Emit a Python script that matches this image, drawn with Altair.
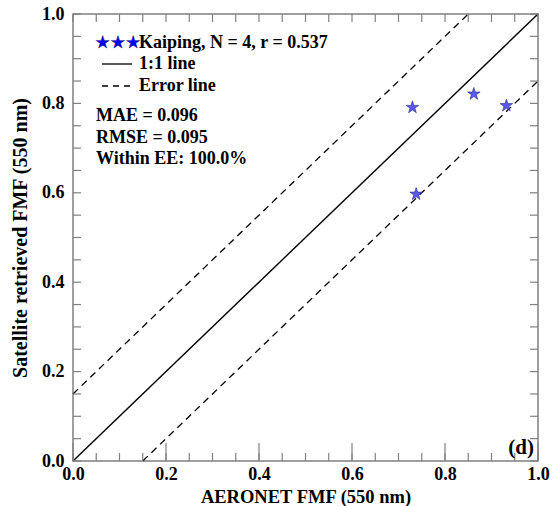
import altair as alt
import pandas as pd

# ---- data ----
site = "Kaiping"
aeronet_fmf = [0.730, 0.862, 0.932, 0.738]
satellite_fmf = [0.791, 0.821, 0.795, 0.597]

one_x = [0.0, 1.0]
one_y = [0.0, 1.0]
ee_upper_x = [0.0, 0.85]
ee_upper_y = [0.15, 1.0]
ee_lower_x = [0.15, 1.0]
ee_lower_y = [0.0, 0.85]

major_ticks = [0.0, 0.2, 0.4, 0.6, 0.8, 1.0]
all_ticks = [0.0, 0.05, 0.1, 0.15, 0.2, 0.25, 0.3, 0.35, 0.4, 0.45, 0.5,
             0.55, 0.6, 0.65, 0.7, 0.75, 0.8, 0.85, 0.9, 0.95, 1.0]

legend_title = "Kaiping, N = 4, r = 0.537"
legend_items = ["1:1 line", "Error line"]
stats_lines = ["MAE = 0.096", "RMSE = 0.095", "Within EE: 100.0%"]
panel_label = "(d)"
x_title = "AERONET FMF (550 nm)"
y_title = "Satellite retrieved FMF (550 nm)"

# ---- layout / style ----
W, H = 465, 447
FONT = "Liberation Serif"
FS = 18
FRAME = "#808080"

sx = alt.Scale(domain=[0, 1], nice=False, zero=False)
sy = alt.Scale(domain=[0, 1], nice=False, zero=False)

xaxis = alt.Axis(values=major_ticks, format=".1f", ticks=False, domain=False, grid=False,
                 labelFont=FONT, labelFontSize=FS, labelFontWeight="bold", labelColor="black",
                 labelPadding=4, labelFlush=False, labelOverlap=False,
                 title=x_title, titleFont=FONT, titleFontSize=18.5, titleFontWeight="bold",
                 titleColor="black", titleX=W / 2, titleY=35, titleAlign="center",
                 titleBaseline="middle")
yaxis = alt.Axis(values=major_ticks, format=".1f", ticks=False, domain=False, grid=False,
                 labelFont=FONT, labelFontSize=FS, labelFontWeight="bold", labelColor="black",
                 labelPadding=9, labelFlush=False, labelOverlap=False,
                 title=y_title, titleFont=FONT, titleFontSize=20, titleFontWeight="bold",
                 titleColor="black", titleX=-53, titleY=H / 2, titleAngle=270,
                 titleAlign="center", titleBaseline="middle")


def X(f):
    return alt.X(f, type="quantitative", scale=sx, axis=xaxis)


def Y(f):
    return alt.Y(f, type="quantitative", scale=sy, axis=yaxis)


pts = pd.DataFrame({"x": aeronet_fmf, "y": satellite_fmf})
one = pd.DataFrame({"x": one_x, "y": one_y})
up = pd.DataFrame({"x": ee_upper_x, "y": ee_upper_y})
lo = pd.DataFrame({"x": ee_lower_x, "y": ee_lower_y})
ticks_all = pd.DataFrame({"v": all_ticks})
ticks_major = pd.DataFrame({"v": major_ticks})

STAR = ("M0,-1 L0.2245,-0.309 L0.9511,-0.309 L0.3633,0.118 L0.5878,0.809 "
        "L0,0.382 L-0.5878,0.809 L-0.3633,0.118 L-0.9511,-0.309 L-0.2245,-0.309 Z")

line_one = alt.Chart(one).mark_line(color="black", strokeWidth=1.4).encode(x=X("x"), y=Y("y"))
line_up = alt.Chart(up).mark_line(color="black", strokeWidth=1.3, strokeDash=[7, 5]).encode(x=X("x"), y=Y("y"))
line_lo = alt.Chart(lo).mark_line(color="black", strokeWidth=1.3, strokeDash=[7, 5]).encode(x=X("x"), y=Y("y"))

stars = alt.Chart(pts).mark_point(shape=STAR, size=175, filled=True, fill="#5a5af0",
                                  stroke="#2a2a80", strokeWidth=0.6, opacity=1).encode(
    x=X("x"), y=Y("y"))

TK = dict(color=FRAME, strokeWidth=1.2)
t_bottom = alt.Chart(ticks_all).mark_rule(**TK).encode(x=X("v"), y=alt.value(H), y2=alt.value(H - 8))
t_bottom_major = alt.Chart(ticks_major).mark_rule(**TK).encode(x=X("v"), y=alt.value(H), y2=alt.value(H - 18))
t_top = alt.Chart(ticks_all).mark_rule(**TK).encode(x=X("v"), y=alt.value(0), y2=alt.value(8))
t_left = alt.Chart(ticks_all).mark_rule(**TK).encode(y=Y("v"), x=alt.value(0), x2=alt.value(8))
t_right = alt.Chart(ticks_all).mark_rule(**TK).encode(y=Y("v"), x=alt.value(W), x2=alt.value(W - 8))

TXT = dict(font=FONT, fontSize=FS, fontWeight="bold", color="black", align="left", baseline="middle")

leg_stars = alt.Chart(pd.DataFrame({"t": ["\u2605\u2605\u2605"]})).mark_text(
    font="DejaVu Sans", fontSize=17, color="#0000ee", stroke="#000050", strokeWidth=0.4,
    align="left", baseline="middle").encode(text="t:N", x=alt.value(22), y=alt.value(29))
leg_title = alt.Chart(pd.DataFrame({"t": [legend_title]})).mark_text(**TXT).encode(
    text="t:N", x=alt.value(66), y=alt.value(29))
leg_solid = alt.Chart(pd.DataFrame({"t": [legend_items[0]]})).mark_rule(color="black", strokeWidth=1.3).encode(
    x=alt.value(29), x2=alt.value(59), y=alt.value(50))
leg_solid_t = alt.Chart(pd.DataFrame({"t": [legend_items[0]]})).mark_text(**TXT).encode(
    text="t:N", x=alt.value(66), y=alt.value(50))
leg_dash = alt.Chart(pd.DataFrame({"t": [legend_items[1]]})).mark_rule(color="black", strokeWidth=1.3, strokeDash=[6, 5]).encode(
    x=alt.value(29), x2=alt.value(57), y=alt.value(72))
leg_dash_t = alt.Chart(pd.DataFrame({"t": [legend_items[1]]})).mark_text(**TXT).encode(
    text="t:N", x=alt.value(66), y=alt.value(72))
stats = alt.Chart(pd.DataFrame({"t": [stats_lines]})).mark_text(
    font=FONT, fontSize=FS, fontWeight="bold", color="black", align="left", baseline="middle",
    lineHeight=21.7).encode(text="t", x=alt.value(23), y=alt.value(102))
plabel = alt.Chart(pd.DataFrame({"t": [panel_label]})).mark_text(
    font=FONT, fontSize=21, fontWeight="bold", color="black", align="right", baseline="middle").encode(
    text="t:N", x=alt.value(W - 4), y=alt.value(434))

chart = alt.layer(
    line_one, line_up, line_lo,
    t_bottom, t_bottom_major, t_top, t_left, t_right,
    stars,
    leg_stars, leg_title, leg_solid, leg_solid_t, leg_dash, leg_dash_t, stats, plabel,
).properties(
    width=W, height=H,
    autosize=alt.AutoSizeParams(type="none"),
    padding={"left": 73, "top": 14, "right": 18, "bottom": 45},
    background="white",
).configure_view(stroke=FRAME, strokeWidth=1.5)

chart.save("out.html", embed_options={"renderer": "svg", "actions": False})
